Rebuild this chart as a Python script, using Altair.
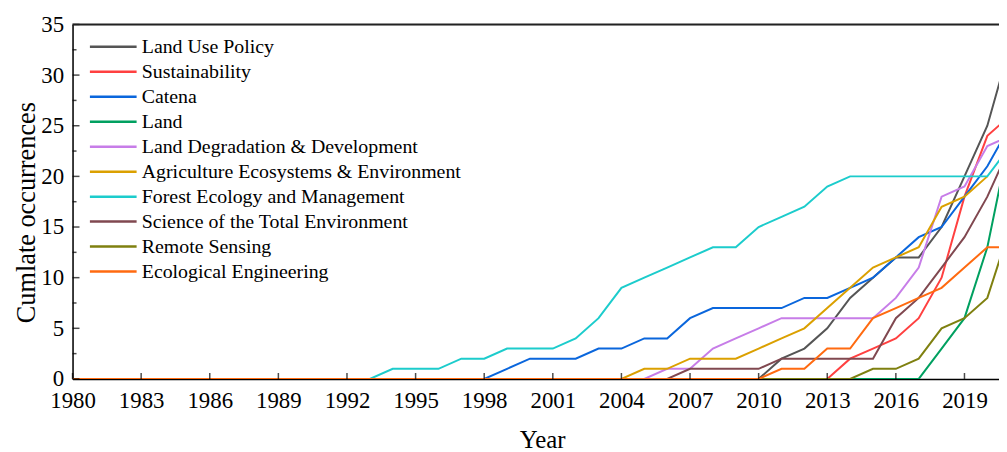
import altair as alt
import pandas as pd

years = list(range(1980, 2022))

series_names = [
    "Land Use Policy",
    "Sustainability",
    "Catena",
    "Land",
    "Land Degradation & Development",
    "Agriculture Ecosystems & Environment",
    "Forest Ecology and Management",
    "Science of the Total Environment",
    "Remote Sensing",
    "Ecological Engineering",
]

colors = ["#555555", "#ff4040", "#0a66dc", "#00a060", "#c77de8",
          "#dba000", "#1ccccc", "#804850", "#7f8010", "#ff6a10"]

# cumulative occurrences per year from 1980 (leading zeros written as repeats)
land_use_policy = [0] * 31 + [2, 3, 5, 8, 10, 12, 12, 15, 20, 25, 33]
sustainability = [0] * 34 + [2, 3, 4, 6, 10, 18, 24, 26]
catena = [0] * 19 + [1, 2, 2, 2, 3, 3, 4, 4, 6, 7, 7, 7, 7, 8, 8, 9, 10, 12, 14, 15, 18, 21, 25]
land = [0] * 38 + [3, 6, 13, 24]
land_degradation = [0] * 26 + [1, 1, 3, 4, 5, 6, 6, 6, 6, 6, 8, 11, 18, 19, 23, 24]
agriculture = [0] * 25 + [1, 1, 2, 2, 2, 3, 4, 5, 7, 9, 11, 12, 13, 17, 18, 20]
forest = [0] * 14 + [1, 1, 1, 2, 2, 3, 3, 3, 4, 6, 9, 10, 11, 12, 13, 13, 15, 16, 17, 19,
                     20, 20, 20, 20, 20, 20, 20, 23]
science = [0] * 27 + [1, 1, 1, 1, 2, 2, 2, 2, 2, 6, 8, 11, 14, 18, 23]
remote_sensing = [0] * 35 + [1, 1, 2, 5, 6, 8, 15]
ecological_eng = [0] * 31 + [1, 1, 3, 3, 6, 7, 8, 9, 11, 13, 13]

all_values = [land_use_policy, sustainability, catena, land, land_degradation,
              agriculture, forest, science, remote_sensing, ecological_eng]

x_ticks = list(range(1980, 2020, 3))
y_major = [0, 5, 10, 15, 20, 25, 30, 35]
y_minor = [2.5, 7.5, 12.5, 17.5, 22.5, 27.5, 32.5]

rows = []
for name, vals in zip(series_names, all_values):
    for yr, v in zip(years, vals):
        rows.append({"year": yr, "value": v, "journal": name})
df = pd.DataFrame(rows)

FONT = "Liberation Serif"
xs = alt.Scale(domain=[1980, 2020.51], nice=False, zero=False)
ys = alt.Scale(domain=[0, 35], nice=False, zero=True)

xaxis = alt.Axis(values=x_ticks, format="d", ticks=False, tickSize=0, grid=False,
                 labelFont=FONT, labelFontSize=23, labelColor="black",
                 labelPadding=29, labelBaseline="alphabetic", labelFlush=False,
                 labelOverlap=False, domainColor="black", domainWidth=1.5,
                 titleFont=FONT, titleFontSize=25, titleFontWeight="normal",
                 titleColor="black", titleX=473, titleY=69, titleBaseline="alphabetic")
yaxis = alt.Axis(values=y_major, ticks=False, tickSize=0, grid=False,
                 labelFont=FONT, labelFontSize=23, labelColor="black",
                 labelPadding=9, labelFlush=False, labelOverlap=False,
                 domainColor="black", domainWidth=1.5,
                 titleFont=FONT, titleFontSize=26.5, titleFontWeight="normal",
                 titleColor="black", titleX=-38, titleY=189, titleAngle=270,
                 titleBaseline="alphabetic", titleAlign="center")

lines = alt.Chart(df).mark_line(strokeWidth=2, clip=True).encode(
    x=alt.X("year:Q", scale=xs, axis=xaxis, title="Year"),
    y=alt.Y("value:Q", scale=ys, axis=yaxis, title="Cumlate occurrences"),
    color=alt.Color("journal:N", sort=series_names,
                    scale=alt.Scale(domain=series_names, range=colors),
                    legend=alt.Legend(
                        title=None, orient="none", legendX=17, legendY=12.5,
                        symbolType="M-2.94,0H2.94", symbolSize=256,
                        symbolStrokeWidth=2.5, symbolOffset=14, labelOffset=18.7,
                        rowPadding=5.15, padding=0, labelFont=FONT, labelFontSize=20,
                        labelColor="black", labelLimit=500)),
)

xt = alt.Chart(pd.DataFrame({"year": x_ticks})).mark_tick(
    orient="vertical", size=6, thickness=1.5, yOffset=-3, color="black"
).encode(
    x=alt.X("year:Q", scale=xs, axis=xaxis, title="Year"),
    y=alt.YDatum(0, scale=ys, axis=yaxis, title="Cumlate occurrences"),
)

ytm = alt.Chart(pd.DataFrame({"value": y_major})).mark_tick(
    orient="horizontal", size=7, thickness=1.5, xOffset=3.5, color="black"
).encode(
    y=alt.Y("value:Q", scale=ys, axis=yaxis, title="Cumlate occurrences"),
    x=alt.XDatum(1980, scale=xs, axis=xaxis, title="Year"),
)

ytn = alt.Chart(pd.DataFrame({"value": y_minor})).mark_tick(
    orient="horizontal", size=4, thickness=1.5, xOffset=2, color="black"
).encode(
    y=alt.Y("value:Q", scale=ys, axis=yaxis, title="Cumlate occurrences"),
    x=alt.XDatum(1980, scale=xs, axis=xaxis, title="Year"),
)

top = alt.Chart(pd.DataFrame({"value": [35]})).mark_rule(
    color="#222222", strokeWidth=2
).encode(
    y=alt.Y("value:Q", scale=ys, axis=yaxis, title="Cumlate occurrences"),
)

chart = alt.layer(lines, xt, ytm, ytn, top).properties(
    width=933, height=357,
    padding={"left": 65, "top": 15, "right": 0, "bottom": 72},
    autosize=alt.AutoSizeParams(type="none"),
).configure_view(stroke=None).configure(background="white")

chart.save("out.html", embed_options={"renderer": "svg", "actions": False})
